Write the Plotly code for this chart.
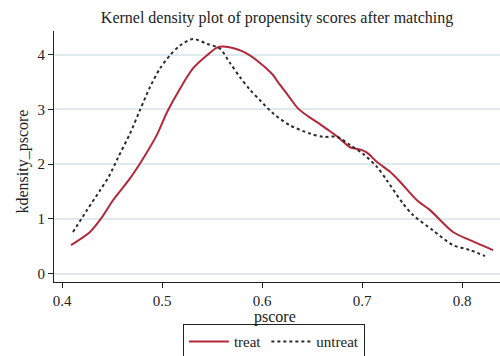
import plotly.graph_objects as go

treat_x = [0.409, 0.428, 0.440, 0.451, 0.468, 0.481, 0.495, 0.505, 0.518, 0.531, 0.545,
           0.555, 0.561, 0.575, 0.585, 0.598, 0.611, 0.616, 0.626, 0.636, 0.648, 0.655, 0.665,
           0.675, 0.688, 0.698, 0.705, 0.715, 0.728, 0.738, 0.755, 0.768, 0.791, 0.808, 0.831]
treat_y = [0.52, 0.76, 1.03, 1.34, 1.74, 2.10, 2.54, 2.95, 3.38, 3.75, 3.99,
           4.13, 4.15, 4.10, 4.02, 3.85, 3.63, 3.50, 3.26, 3.02, 2.85, 2.77, 2.64,
           2.51, 2.31, 2.27, 2.21, 2.04, 1.86, 1.68, 1.34, 1.16, 0.76, 0.61, 0.43]

untreat_x = [0.411, 0.425, 0.438, 0.447, 0.456, 0.468, 0.478, 0.488, 0.498, 0.508, 0.518,
             0.531, 0.545, 0.558, 0.568, 0.578, 0.588, 0.598, 0.611, 0.628, 0.648, 0.661, 0.675,
             0.688, 0.701, 0.715, 0.725, 0.741, 0.751, 0.771, 0.791, 0.808, 0.823]
untreat_y = [0.76, 1.16, 1.52, 1.78, 2.12, 2.56, 2.99, 3.41, 3.75, 3.99, 4.17,
             4.29, 4.20, 4.11, 3.85, 3.59, 3.36, 3.17, 2.93, 2.71, 2.56, 2.50, 2.50,
             2.35, 2.19, 1.95, 1.70, 1.28, 1.07, 0.79, 0.52, 0.43, 0.32]

x_ticks = [0.4, 0.5, 0.6, 0.7, 0.8]
y_ticks = [0, 1, 2, 3, 4]

font = "Liberation Serif"

fig = go.Figure()
fig.add_trace(go.Scatter(x=treat_x, y=treat_y, mode="lines", name="treat",
                         line=dict(color="#b3283a", width=2, shape="spline", smoothing=0.8)))
fig.add_trace(go.Scatter(x=untreat_x, y=untreat_y, mode="lines", name="untreat",
                         line=dict(color="#2b2b2b", width=2, dash="dot", shape="spline", smoothing=0.8)))

fig.update_layout(
    width=500, height=356,
    margin=dict(l=54, r=0, t=31, b=74, autoexpand=False),
    paper_bgcolor="white", plot_bgcolor="white",
    font=dict(family=font, size=15, color="#222"),
    title=dict(text="Kernel density plot of propensity scores after matching",
               x=0.5, xref="paper", y=0.952, yanchor="middle",
               font=dict(family=font, size=16, color="#222")),
    showlegend=True,
    legend=dict(orientation="h", x=0.493, xanchor="center", y=-0.168, yanchor="top",
                bordercolor="#222", borderwidth=1, font=dict(family=font, size=15),
                itemwidth=40, tracegroupgap=0),
    xaxis=dict(range=[0.392, 0.838], tickvals=x_ticks, ticktext=[str(v) for v in x_ticks],
               showgrid=False, zeroline=False, showline=True, linecolor="#222", linewidth=1,
               ticks="outside", ticklen=5, tickcolor="#222", tickfont=dict(size=15),
               automargin=False),
    yaxis=dict(range=[-0.154, 4.435], tickvals=y_ticks,
               showgrid=True, gridcolor="#dfeaee", gridwidth=2, zeroline=False,
               showline=True, linecolor="#222", linewidth=1,
               ticks="outside", ticklen=5, tickcolor="#222", tickfont=dict(size=15),
               automargin=False),
    annotations=[
        dict(text="pscore", xref="paper", yref="paper", x=0.495, y=-0.141,
             xanchor="center", yanchor="middle", showarrow=False,
             font=dict(family=font, size=16, color="#222")),
        dict(text="kdensity_pscore", xref="paper", yref="paper", x=-0.0695, y=0.48,
             xanchor="center", yanchor="middle", showarrow=False, textangle=-90,
             font=dict(family=font, size=16, color="#222")),
    ],
)

fig.write_html("out.html")
